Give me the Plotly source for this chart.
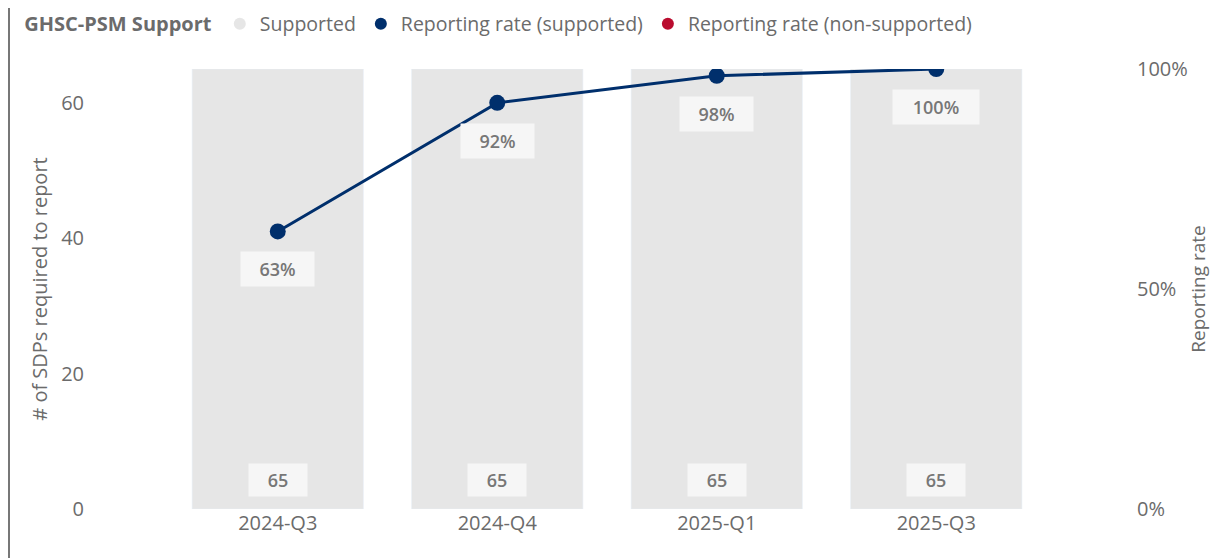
import plotly.graph_objects as go

quarters = ["2024-Q3", "2024-Q4", "2025-Q1", "2025-Q3"]
sdps_supported = [65, 65, 65, 65]
reported_supported = [41, 60, 64, 65]
rate_supported = [r / s for r, s in zip(reported_supported, sdps_supported)]
rate_nonsupported = [None, None, None, None]

GREY_TXT = "#6b6b6b"
BAR = "#e6e6e6"
NAVY = "#002f6c"
RED = "#ba0c2f"
FONT = "Open Sans"
FS = 20

W, H = 1210, 550
L, T, PH = 160, 61, 440
R = 172
B = H - T - PH
PW = W - L - R

fig = go.Figure()
fig.add_trace(go.Bar(x=quarters, y=sdps_supported, marker_color=BAR, width=0.78,
                     showlegend=False, hoverinfo="skip"))
fig.add_trace(go.Scatter(x=quarters, y=rate_supported, yaxis="y2", mode="lines+markers",
                         showlegend=False, line=dict(color=NAVY, width=3),
                         marker=dict(color=NAVY, size=16)))
fig.add_trace(go.Scatter(x=quarters, y=rate_nonsupported, yaxis="y2", mode="lines+markers",
                         showlegend=False, line=dict(color=RED, width=3),
                         marker=dict(color=RED, size=16)))
# legend proxies with circle symbols
for name, col in [("Supported", BAR), ("Reporting rate (supported)", NAVY),
                  ("Reporting rate (non-supported)", RED)]:
    fig.add_trace(go.Scatter(x=[None], y=[None], mode="markers", name=name,
                             marker=dict(color=col, size=18, symbol="circle")))

annotations = []
for q, v in zip(quarters, sdps_supported):
    t = "%d" % v
    annotations.append(dict(x=q, y=0, xref="x", yref="y", text=t,
                            showarrow=False, yanchor="bottom", yshift=12,
                            width=13 * len(t) + 30, height=30,
                            font=dict(family=FONT, size=18, color="#777777", weight=600),
                            bgcolor="#f6f6f6"))
for q, r in zip(quarters, rate_supported):
    t = "%d%%" % round(r * 100)
    annotations.append(dict(x=q, y=r, xref="x", yref="y2", text=t,
                            showarrow=False, yanchor="middle", yshift=-38,
                            width=13 * len(t) + 32, height=32,
                            font=dict(family=FONT, size=18, color="#777777", weight=600),
                            bgcolor="#f6f6f6"))

fig.update_layout(
    width=W, height=H,
    margin=dict(l=L, r=R, t=T, b=B, autoexpand=False),
    paper_bgcolor="white", plot_bgcolor="white",
    font=dict(family=FONT, size=FS, color=GREY_TXT),
    legend=dict(orientation="h", x=-0.166, xanchor="left", y=1 + (T - 16) / PH, yanchor="middle",
                title=dict(text="<b>GHSC-PSM Support</b>", font=dict(size=FS, color=GREY_TXT)),
                font=dict(size=19.5, color=GREY_TXT), itemsizing="constant",
                itemwidth=30, tracegroupgap=0, bgcolor="rgba(0,0,0,0)"),
    xaxis=dict(type="category", showgrid=False, showline=False, ticks="",
               tickfont=dict(size=FS, color=GREY_TXT)),
    yaxis=dict(range=[0, 65], tickvals=[0, 20, 40, 60], showgrid=False, zeroline=False,
               showline=False, ticklabelstandoff=83,
               title=dict(text="# of SDPs required to report", standoff=8,
                          font=dict(size=FS, color=GREY_TXT)),
               tickfont=dict(size=FS, color=GREY_TXT)),
    yaxis2=dict(range=[0, 1], overlaying="y", side="right", tickvals=[0, 0.5, 1],
                tickformat=".0%", showgrid=False, zeroline=False, showline=False,
                ticklabelstandoff=90,
                title=dict(text="Reporting rate", standoff=4,
                           font=dict(size=19, color=GREY_TXT)),
                tickfont=dict(size=FS, color=GREY_TXT)),
    annotations=annotations,
    shapes=[dict(type="line", xref="paper", yref="paper",
                 x0=(1 - L) / PW, x1=(1 - L) / PW, y0=-B / PH, y1=1 + T / PH,
                 line=dict(color="#777777", width=2))],
)

fig.write_html("out.html")
